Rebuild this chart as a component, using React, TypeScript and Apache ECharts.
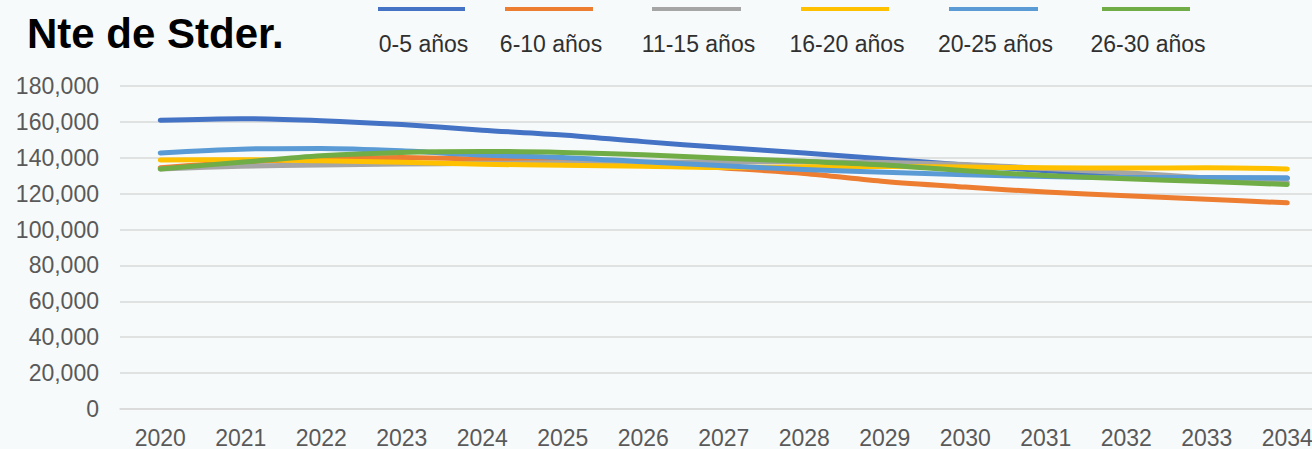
import React, { useEffect, useRef } from "react";
import * as echarts from "echarts";

const years = ["2020","2021","2022","2023","2024","2025","2026","2027","2028","2029","2030","2031","2032","2033","2034"];
const seriesNames = ["0-5 años","6-10 años","11-15 años","16-20 años","20-25 años","26-30 años"];
const seriesColors = ["#4472C4","#ED7D31","#A5A5A5","#FFC000","#5B9BD5","#70AD47"];

const age0to5 = [160900,161800,160700,158500,155400,152700,149000,145700,142600,139300,136000,132800,130500,128800,128800];
const age6to10 = [134500,137500,139300,140200,139300,138500,137000,134300,131300,126800,123700,120900,118900,116900,114900];
const age11to15 = [133800,135300,136000,136500,136900,137200,137500,137700,137800,137400,136200,134000,131600,128800,126400];
const age16to20 = [138700,138900,138300,137500,136400,135800,135300,134600,135000,135200,134800,134400,134300,134400,133800];
const age20to25 = [142700,144800,145200,143900,141500,140200,137800,135600,133400,132000,130600,129500,129000,129000,128600];
const age26to30 = [133800,137500,141100,143000,143500,143000,141700,139800,138000,136000,132800,130100,128300,126800,125100];

const allSeries = [age0to5, age6to10, age11to15, age16to20, age20to25, age26to30];

const yMin = 0;
const yMax = 180000;
const yStep = 20000;

const titleText = "Nte de Stder.";

// legend layout (not data)
const legendLineX = [[378,465],[505,593],[652,741],[801,889],[949,1038],[1102,1190]];

const FONT = "'Liberation Sans', Arial, sans-serif";
const CHART_W = 1340;

export default function App() {
  const ref = useRef<HTMLDivElement>(null);
  useEffect(() => {
    if (!ref.current) return;
    const chart = echarts.init(ref.current, undefined, { renderer: "svg" });
    const legendGraphics: any[] = [];
    seriesNames.forEach((name, i) => {
      const [x1, x2] = legendLineX[i];
      legendGraphics.push({
        type: "line",
        shape: { x1, y1: 9, x2, y2: 9 },
        style: { stroke: seriesColors[i], lineWidth: 4 },
      });
      legendGraphics.push({
        type: "text",
        x: (x1 + x2) / 2 + 2,
        y: 44,
        style: {
          text: name,
          fill: "#303030",
          fontSize: 23,
          fontFamily: FONT,
          textAlign: "center",
          textVerticalAlign: "middle",
        },
      });
    });
    chart.setOption({
      animation: false,
      backgroundColor: "#f7fafa",
      title: {
        text: titleText,
        left: 22,
        top: 7,
        textStyle: { fontSize: 42, fontWeight: "bold", color: "#000", fontFamily: FONT },
      },
      graphic: legendGraphics,
      grid: { left: 120, top: 86, width: 1207.5, height: 328.5, containLabel: false },
      xAxis: {
        type: "category",
        data: years,
        boundaryGap: true,
        axisLine: { show: true, lineStyle: { color: "#d9d9d9", width: 1.5 } },
        axisTick: { show: false },
        axisLabel: { color: "#595959", fontSize: 23, fontFamily: FONT, margin: 17, interval: 0 },
        splitLine: { show: false },
      },
      yAxis: {
        type: "value",
        min: yMin,
        max: yMax,
        interval: yStep,
        axisLine: { show: false },
        axisTick: { show: false },
        axisLabel: {
          color: "#595959",
          fontSize: 23,
          fontFamily: FONT,
          margin: 21,
          formatter: (v: number) => v.toLocaleString("en-US"),
        },
        splitLine: { lineStyle: { color: "#d9d9d9", width: 1.5 } },
      },
      series: allSeries.map((data, i) => ({
        name: seriesNames[i],
        type: "line",
        data,
        smooth: 0.3,
        symbol: "none",
        lineStyle: { color: seriesColors[i], width: 5, cap: "round", join: "round" },
        itemStyle: { color: seriesColors[i] },
        z: 2 + i,
      })),
    });
    return () => chart.dispose();
  }, []);
  return (
    <div style={{ position: "fixed", left: 0, top: 0, width: 1312, height: 449, overflow: "hidden" }}>
      <div ref={ref} style={{ width: CHART_W, height: 449 }} />
    </div>
  );
}
